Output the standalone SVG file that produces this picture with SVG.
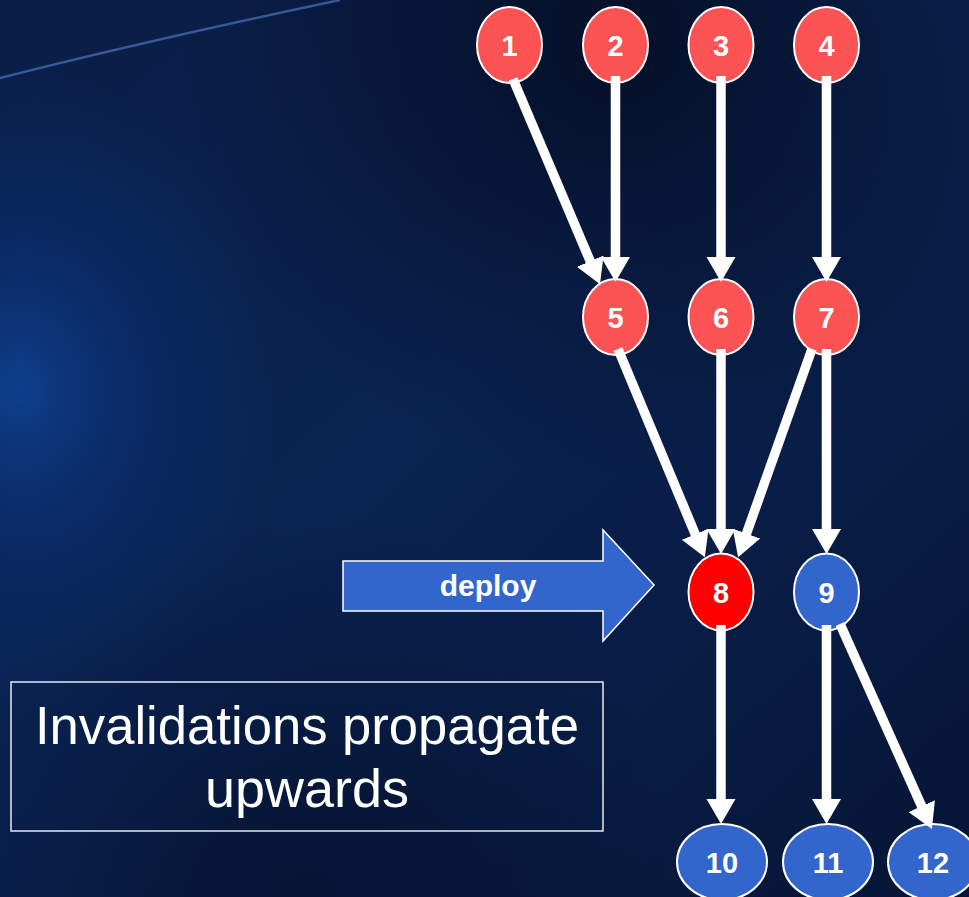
<svg xmlns="http://www.w3.org/2000/svg" width="969" height="897" viewBox="0 0 969 897">
  <defs>
    <linearGradient id="bg" x1="0" y1="0" x2="1" y2="1">
      <stop offset="0" stop-color="#0a1d46"/>
      <stop offset="0.45" stop-color="#0a2352"/>
      <stop offset="1" stop-color="#061536"/>
    </linearGradient>
    <radialGradient id="glowL" cx="0" cy="0" r="1" gradientUnits="userSpaceOnUse" gradientTransform="translate(20,390) scale(260,330)">
      <stop offset="0" stop-color="#0e4498" stop-opacity="0.85"/>
      <stop offset="0.5" stop-color="#0b3278" stop-opacity="0.45"/>
      <stop offset="1" stop-color="#0b3278" stop-opacity="0"/>
    </radialGradient>
    <radialGradient id="darkTR" cx="620" cy="40" r="440" gradientUnits="userSpaceOnUse">
      <stop offset="0" stop-color="#040c20" stop-opacity="0.85"/>
      <stop offset="1" stop-color="#040c20" stop-opacity="0"/>
    </radialGradient>
    <radialGradient id="darkB" cx="300" cy="897" r="380" gradientUnits="userSpaceOnUse">
      <stop offset="0" stop-color="#040f28" stop-opacity="0.65"/>
      <stop offset="1" stop-color="#040f28" stop-opacity="0"/>
    </radialGradient>
    <marker id="ah" markerUnits="userSpaceOnUse" markerWidth="28" markerHeight="32" viewBox="0 -16 28 32" refX="2" refY="0" orient="auto">
      <path d="M0,-14.5 L25,0 L0,14.5 z" fill="#ffffff"/>
    </marker>
    <style>
      .red { fill: #fb5353; stroke: #ffffff; stroke-width: 2; }
      .hot { fill: #ff0000; stroke: #ffffff; stroke-width: 2; }
      .blue { fill: #3366cc; stroke: #ffffff; stroke-width: 2; }
      .num { font-family: "Liberation Sans", Arial, sans-serif; font-weight: bold; font-size: 29px; fill: #ffffff; text-anchor: middle; }
      .edge { stroke: #ffffff; stroke-width: 9.5; fill: none; marker-end: url(#ah); }
      .title { font-family: "Liberation Sans", Arial, sans-serif; font-size: 54px; fill: #ffffff; text-anchor: middle; }
    </style>
  </defs>

  <rect x="0" y="0" width="969" height="897" fill="url(#bg)"/>
  <rect x="0" y="0" width="969" height="897" fill="url(#glowL)"/>
  <rect x="0" y="0" width="969" height="897" fill="url(#darkTR)"/>
  <rect x="0" y="0" width="969" height="897" fill="url(#darkB)"/>
  <path d="M0,78 Q150,40 340,0" fill="none" stroke="#5580d0" stroke-opacity="0.6" stroke-width="2.5"/>

  <g id="n1"><ellipse class="red" cx="509.5" cy="45" rx="32.5" ry="38"/><text class="num" x="509.5" y="56">1</text></g>
  <g id="n2"><ellipse class="red" cx="615.5" cy="45" rx="32.5" ry="38"/><text class="num" x="615.5" y="56">2</text></g>
  <g id="n3"><ellipse class="red" cx="721" cy="45" rx="32.5" ry="38"/><text class="num" x="721" y="56">3</text></g>
  <g id="n4"><ellipse class="red" cx="826.5" cy="45" rx="32.5" ry="38"/><text class="num" x="826.5" y="56">4</text></g>

  <g id="n5"><ellipse class="red" cx="615.5" cy="317" rx="32.5" ry="38"/><text class="num" x="615.5" y="328">5</text></g>
  <g id="n6"><ellipse class="red" cx="721" cy="317" rx="32.5" ry="38"/><text class="num" x="721" y="328">6</text></g>
  <g id="n7"><ellipse class="red" cx="826.5" cy="317" rx="32.5" ry="38"/><text class="num" x="826.5" y="328">7</text></g>

  <g id="n8"><ellipse class="hot" cx="721" cy="592" rx="32.5" ry="38.5"/><text class="num" x="721" y="603">8</text></g>
  <g id="n9"><ellipse class="blue" cx="826.5" cy="592" rx="32.5" ry="38.5"/><text class="num" x="826.5" y="603">9</text></g>

  <g id="n10"><ellipse class="blue" cx="722" cy="862" rx="45" ry="38"/><text class="num" x="722" y="873">10</text></g>
  <g id="n11"><ellipse class="blue" cx="828" cy="862" rx="45" ry="38"/><text class="num" x="828" y="873">11</text></g>
  <g id="n12"><ellipse class="blue" cx="933" cy="862" rx="45" ry="38"/><text class="num" x="933" y="873">12</text></g>

  <g id="connectors">
    <line class="edge" x1="513" y1="79" x2="591" y2="263"/>
    <line class="edge" x1="615.5" y1="76" x2="615.5" y2="259"/>
    <line class="edge" x1="721" y1="76" x2="721" y2="259"/>
    <line class="edge" x1="826.5" y1="76" x2="826.5" y2="259"/>
    <line class="edge" x1="618" y1="349" x2="696" y2="536"/>
    <line class="edge" x1="721" y1="349" x2="721" y2="531"/>
    <line class="edge" x1="812" y1="349" x2="745.8" y2="535.5"/>
    <line class="edge" x1="826.5" y1="349" x2="826.5" y2="531"/>
    <line class="edge" x1="721" y1="625" x2="721" y2="801"/>
    <line class="edge" x1="826.5" y1="625" x2="826.5" y2="801"/>
    <line class="edge" x1="840" y1="624" x2="922.5" y2="808"/>
  </g>

  <g id="deploy">
    <polygon points="343,561 603,561 603,530 654,585 603,641 603,611 343,611" fill="#3366cc" stroke="#ffffff" stroke-width="1.5"/>
    <text x="488" y="596" font-family="Liberation Sans, Arial, sans-serif" font-weight="bold" font-size="30" fill="#ffffff" text-anchor="middle">deploy</text>
  </g>

  <g id="note">
    <rect x="11" y="682" width="592" height="149" fill="none" stroke="#e6e9f2" stroke-width="1.5"/>
    <text class="title" x="307" y="744" textLength="544" lengthAdjust="spacingAndGlyphs">Invalidations propagate</text>
    <text class="title" x="307" y="807">upwards</text>
  </g>
</svg>
